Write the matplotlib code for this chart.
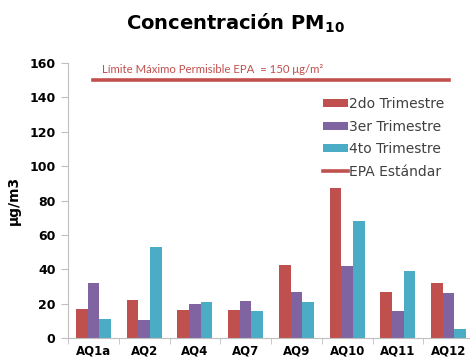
import numpy as np
import matplotlib.pyplot as plt

# PM10 concentration by station and quarter
estaciones = ['AQ1a', 'AQ2', 'AQ4', 'AQ7', 'AQ9', 'AQ10', 'AQ11', 'AQ12']
trim2 = [17, 22, 16.5, 16.5, 42.5, 87, 26.5, 32]
trim3 = [32, 10.5, 20, 21.5, 26.5, 42, 15.5, 26]
trim4 = [11, 53, 21, 16, 21, 68, 39, 5.5]
epa = [150] * len(estaciones)

rojo = '#C0504D'
morado = '#8064A2'
cian = '#4BACC6'
gris = '#BFBFBF'

plt.rcParams['font.family'] = ['DejaVu Sans']

fig = plt.figure(figsize=(4.7, 3.62), dpi=100)
ax = fig.add_axes([68 / 470, 24 / 362, 406 / 470, 275 / 362])

x = np.arange(len(estaciones))
w = 0.23
ax.bar(x - w, trim2, w, color=rojo, label='2do Trimestre')
ax.bar(x, trim3, w, color=morado, label='3er Trimestre')
ax.bar(x + w, trim4, w, color=cian, label='4to Trimestre')
ax.plot(x, epa, color=rojo, lw=2.6, label='EPA Estándar')

ax.set_xlim(-0.5, len(estaciones) - 0.5)
ax.set_ylim(0, 160)
ax.set_yticks(range(0, 161, 20))
ax.set_xticks(x)
ax.set_xticklabels(estaciones, fontweight='bold', fontsize=8.5)
ax.set_xticks(np.arange(-0.5, len(estaciones), 1), minor=True)
ax.tick_params(axis='x', which='major', length=0, pad=5)
ax.tick_params(axis='x', which='minor', length=4, color=gris)
ax.tick_params(axis='y', length=5, color=gris, labelsize=9, pad=4)
for lbl in ax.get_yticklabels():
    lbl.set_fontweight('bold')

for s in ['top', 'right']:
    ax.spines[s].set_visible(False)
for s in ['left', 'bottom']:
    ax.spines[s].set_color(gris)

ax.set_ylabel('μg/m3', fontweight='bold', fontsize=10, labelpad=6)

ax.text(0.17, 153, 'Límite Máximo Permisible EPA  = 150 μg/m²',
        color=rojo, fontsize=8.2, va='bottom', family='Lato')

# put the EPA line last in the legend
h, l = ax.get_legend_handles_labels()
orden = [1, 2, 3, 0]
leg = ax.legend([h[i] for i in orden], [l[i] for i in orden],
                loc='upper left', bbox_to_anchor=(255 / 406, 241 / 275),
                frameon=False, fontsize=10, handlelength=1.8,
                handleheight=0.5, handletextpad=0.1, labelspacing=0.62,
                borderaxespad=0, borderpad=0)
for t in leg.get_texts():
    t.set_color('#404040')

fig.text(0.5, 0.935, r'Concentración PM$\mathregular{_{10}}$', ha='center',
         va='center', fontsize=14, fontweight='bold')

fig.savefig('out.png', dpi=100)
